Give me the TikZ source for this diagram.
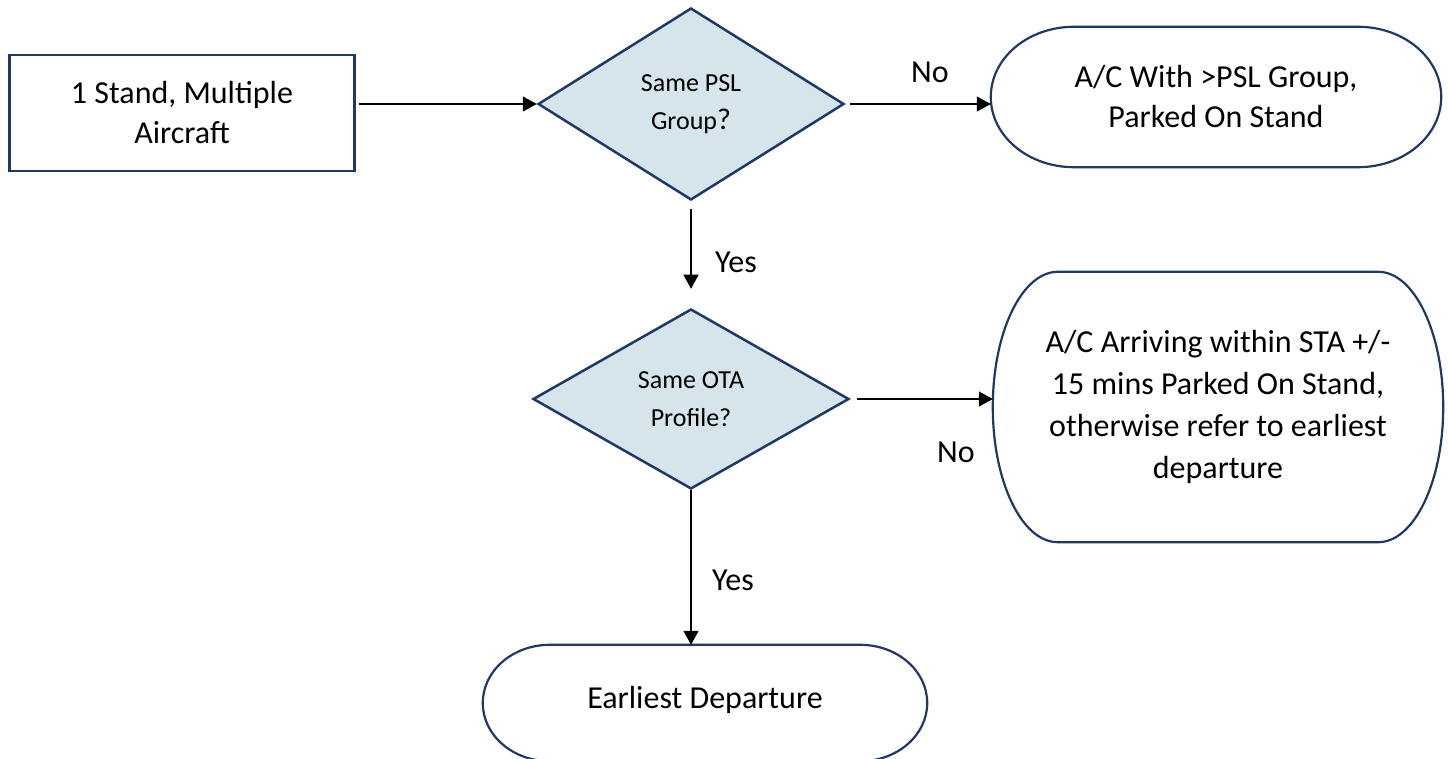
\documentclass[tikz,border=0pt]{standalone}
\usepackage{fontspec}
\setmainfont{Carlito}
\usetikzlibrary{shapes.geometric,arrows.meta}
\definecolor{navy}{RGB}{31,56,100}
\definecolor{dfill}{RGB}{214,229,236}
\newcommand\termshape[3]{%
  \draw[termline] ([xshift=#2]#1.north west) -- ([xshift=-#2]#1.north east)
    arc[start angle=90,end angle=0,x radius=#2,y radius=#3]
    -- ([yshift=#3]#1.south east)
    arc[start angle=0,end angle=-90,x radius=#2,y radius=#3]
    -- ([xshift=#2]#1.south west)
    arc[start angle=270,end angle=180,x radius=#2,y radius=#3]
    -- ([yshift=-#3]#1.north west)
    arc[start angle=180,end angle=90,x radius=#2,y radius=#3] -- cycle;}
\begin{document}
\begin{tikzpicture}[x=1pt,y=1pt,
  maintext/.style={font=\fontsize{32}{40}\selectfont},
  procbox/.style={draw=navy,line width=2.2pt,align=center,inner sep=0pt,maintext},
  decision/.style={diamond,draw=navy,fill=dfill,line width=2.5pt,align=center,inner sep=0pt,
    shape aspect=1.6,font=\fontsize{26}{38}\selectfont},
  termnode/.style={align=center,inner sep=0pt,maintext},
  termline/.style={draw=navy,line width=2.2pt},
  arr/.style={draw=black,line width=1.2pt,-{Triangle[length=14pt,width=15pt]}},
  lbl/.style={maintext,inner sep=0pt}]
\useasboundingbox (0,0) rectangle (1448,758);
% nodes
\node[procbox,minimum width=345pt,minimum height=116pt] (start) at (182,645) {1 Stand, Multiple\\Aircraft};
\node[decision,minimum width=306pt,minimum height=192pt] (d1) at (691,654) {Same PSL\\Group{\fontsize{30}{38}\selectfont ?}};
\node[termnode,minimum width=450pt,minimum height=140pt] (t1) at (1216,661) {A/C With >PSL Group,\\Parked On Stand};
\termshape{t1}{83pt}{70pt}
\node[decision,minimum width=316pt,minimum height=180pt] (d2) at (691,359) {Same OTA\\Profile?};
\node[termnode,minimum width=450pt,minimum height=270pt,font=\fontsize{32}{42}\selectfont] (t2) at (1218,351) {A/C Arriving within STA +/-\\15 mins Parked On Stand,\\otherwise refer to earliest\\departure};
\termshape{t2}{65pt}{135pt}
\node[termnode,minimum width=444pt,minimum height=116pt] (t3) at (705,55) {\raisebox{12pt}{Earliest Departure}};
\termshape{t3}{67pt}{58pt}
% connectors
\draw[arr] ([xshift=3pt]start.east |- d1.west) -- (d1.west);
\draw[arr] ([xshift=5pt]d1.east) -- (t1.west |- d1.east);
\draw[arr] ([yshift=-8pt]d1.south) -- ([yshift=19pt]d2.north);
\draw[arr] ([xshift=7pt]d2.east) -- (t2.west |- d2.east);
\draw[arr] (d2.south) -- (d2.south |- t3.north);
% labels
\node[lbl] (no1) at (930,686) {No};
\node[lbl] (yes1) at (736,496) {Yes};
\node[lbl] (no2) at (956,306) {No};
\node[lbl] (yes2) at (733,178) {Yes};
\end{tikzpicture}
\end{document}
